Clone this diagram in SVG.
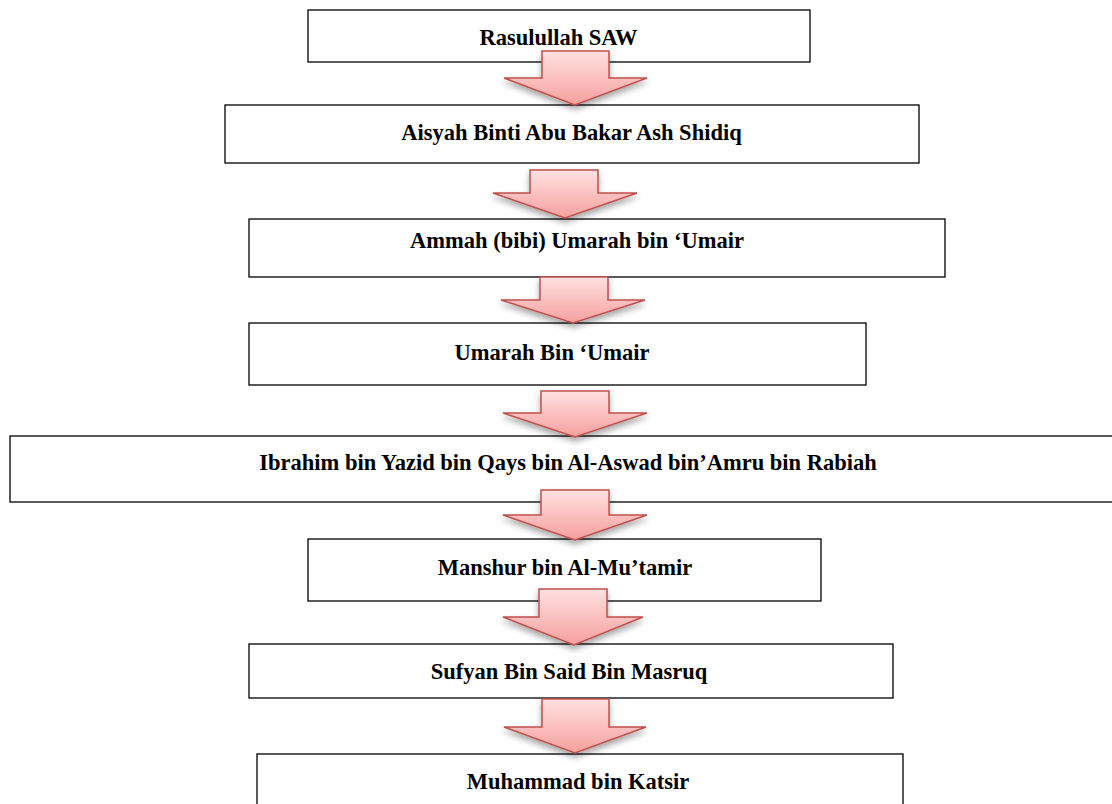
<svg xmlns="http://www.w3.org/2000/svg" width="1112" height="804" viewBox="0 0 1112 804">
<style>
.box{fill:#fff;stroke:#000;stroke-width:1.3}
.lbl{font-family:"Liberation Serif","Times New Roman",serif;font-weight:bold;font-size:22.5px;fill:#000;text-anchor:middle}
.arr{fill:url(#g);stroke:#c0504d;stroke-width:1.5;stroke-linejoin:miter;filter:url(#sh)}
</style>
<defs>
<linearGradient id="g" x1="0" y1="0" x2="0" y2="1">
<stop offset="0" stop-color="#ffe1e1"/>
<stop offset="1" stop-color="#f5a09e"/>
</linearGradient>
<filter id="sh" x="-20%" y="-20%" width="140%" height="160%">
<feGaussianBlur in="SourceAlpha" stdDeviation="3"/>
<feOffset dy="4"/>
<feComponentTransfer><feFuncA type="linear" slope="0.35"/></feComponentTransfer>
<feMerge><feMergeNode/><feMergeNode in="SourceGraphic"/></feMerge>
</filter>
</defs>
<rect width="1112" height="804" fill="#fff"/>
<g id="n1"><rect class="box" x="308" y="10" width="502" height="52"/><text class="lbl" x="558.5" y="45">Rasulullah SAW</text></g>
<g id="n2"><rect class="box" x="225" y="105" width="694" height="58"/><text class="lbl" x="571.5" y="140">Aisyah Binti Abu Bakar Ash Shidiq</text></g>
<g id="n3"><rect class="box" x="249" y="219" width="696" height="58"/><text class="lbl" x="577" y="248">Ammah (bibi) Umarah bin ‘Umair</text></g>
<g id="n4"><rect class="box" x="249" y="323" width="617" height="62"/><text class="lbl" x="552" y="360">Umarah Bin ‘Umair</text></g>
<g id="n5"><rect class="box" x="10" y="436" width="1110" height="66"/><text class="lbl" x="568" y="470">Ibrahim bin Yazid bin Qays bin Al-Aswad bin’Amru bin Rabiah</text></g>
<g id="n6"><rect class="box" x="308" y="539" width="513" height="62"/><text class="lbl" x="565" y="575">Manshur bin Al-Mu’tamir</text></g>
<g id="n7"><rect class="box" x="249" y="644" width="644" height="54"/><text class="lbl" x="569" y="679">Sufyan Bin Said Bin Masruq</text></g>
<g id="n8"><rect class="box" x="257" y="754" width="646" height="70"/><text class="lbl" x="578" y="789">Muhammad bin Katsir</text></g>
<g id="connectors">
<path class="arr" d="M542,51 H609 V78 H647 L575,105 L504,78 H542 Z"/>
<path class="arr" d="M530,170 H598 V193 H637 L565,218 L493,193 H530 Z"/>
<path class="arr" d="M540,277 H608 V300 H645 L573,323 L501,300 H540 Z"/>
<path class="arr" d="M541,391 H609 V413 H647 L575,437 L503,413 H541 Z"/>
<path class="arr" d="M541,490 H609 V515 H647 L575,540 L503,515 H541 Z"/>
<path class="arr" d="M539,589 H607 V617 H643 L574,645 L503,617 H539 Z"/>
<path class="arr" d="M542,699 H609 V727 H646 L575,753 L504,727 H542 Z"/>
</g>
</svg>
